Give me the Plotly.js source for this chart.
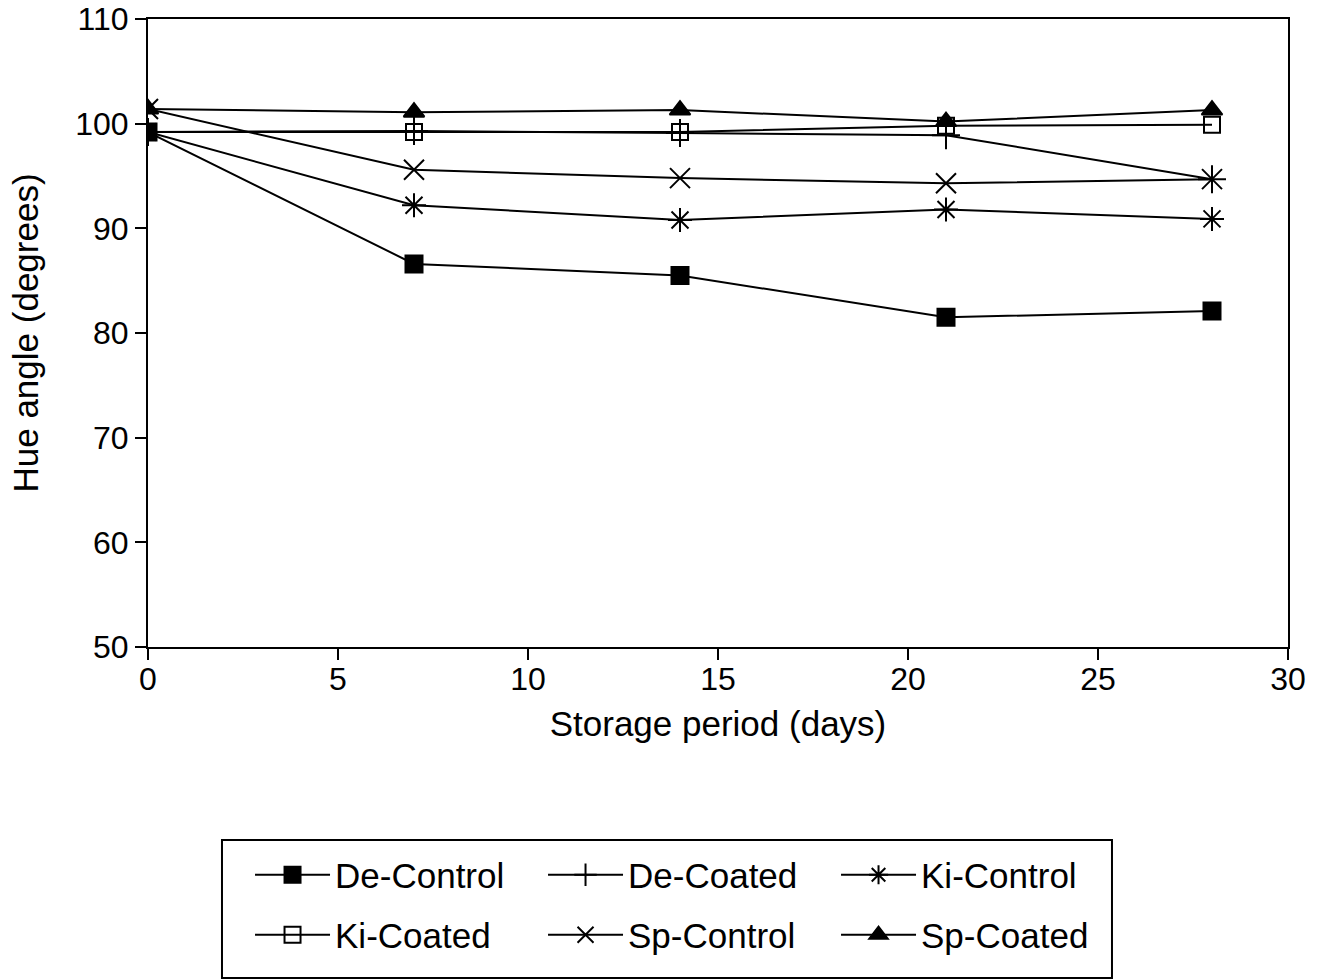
<!DOCTYPE html>
<html>
<head>
<meta charset="utf-8">
<script src="https://cdn.plot.ly/plotly-3.0.1.min.js"></script>
<style>
  html, body { margin: 0; padding: 0; background: #fff; }
  #chart { width: 1324px; height: 979px; }
</style>
</head>
<body>
<div id="chart"></div>
<script>
// Storage period (days)
const days = [0, 7, 14, 21, 28];

// Hue angle (degrees) per treatment
const deControl = [99.2, 86.6, 85.5, 81.5, 82.1];
const deCoated  = [99.2, 99.3, 99.1, 98.9, 94.7];
const kiControl = [99.2, 92.2, 90.8, 91.8, 90.9];
const kiCoated  = [99.2, 99.2, 99.2, 99.8, 99.9];
const spControl = [101.4, 95.6, 94.8, 94.3, 94.7];
const spCoated  = [101.4, 101.1, 101.3, 100.2, 101.3];

const seriesNames = ["De-Control", "De-Coated", "Ki-Control", "Ki-Coated", "Sp-Control", "Sp-Coated"];
const seriesValues = [deControl, deCoated, kiControl, kiCoated, spControl, spCoated];
const symbols = ["square", "cross-thin-open", "asterisk-open", "square-open", "x-thin-open", "triangle-up"];
const sizes = [17, 20, 20, 16, 20, 18];
const legendRow = ["legend", "legend", "legend", "legend2", "legend2", "legend2"];

const traces = seriesNames.map((name, i) => ({
  x: days,
  y: seriesValues[i],
  name: name,
  type: "scatter",
  mode: "lines+markers",
  legend: legendRow[i],
  line: { color: "#000", width: 2 },
  marker: {
    symbol: symbols[i],
    size: sizes[i],
    color: "#000",
    line: { color: "#000", width: 2 }
  }
}));

const fontFam = "Liberation Sans, Arial, sans-serif";

// plot area: top 19px, bottom 647px
const plotTop = 19, plotBottom = 647, plotH = plotBottom - plotTop;
function py(pix) { return (plotBottom - pix) / plotH; }

function legendCfg(y) {
  return {
    orientation: "h",
    x: 0.0895,
    xanchor: "left",
    y: y,
    yanchor: "middle",
    borderwidth: 0,
    bgcolor: "rgba(0,0,0,0)",
    entrywidth: 203,
    entrywidthmode: "pixels",
    itemwidth: 75,
    font: { family: fontFam, size: 35, color: "#000" }
  };
}

const layout = {
  width: 1324,
  height: 979,
  paper_bgcolor: "#fff",
  plot_bgcolor: "#fff",
  margin: { l: 148, r: 36, t: plotTop, b: 979 - plotBottom },
  showlegend: true,
  font: { family: fontFam, color: "#000", size: 32 },
  xaxis: {
    range: [0, 30],
    tickvals: [0, 5, 10, 15, 20, 25, 30],
    ticks: "outside",
    ticklen: 11,
    tickwidth: 2,
    tickcolor: "#000",
    showline: true,
    linecolor: "#000",
    linewidth: 2,
    mirror: true,
    showgrid: false,
    zeroline: false,
    ticklabelstandoff: -8,
    ticklabeloverflow: "allow",
    tickfont: { family: fontFam, size: 32, color: "#000" },
    title: { text: "Storage period (days)", font: { family: fontFam, size: 35, color: "#000" }, standoff: 15 }
  },
  yaxis: {
    range: [50, 110],
    tickvals: [50, 60, 70, 80, 90, 100, 110],
    ticks: "outside",
    ticklen: 11,
    tickwidth: 2,
    tickcolor: "#000",
    showline: true,
    linecolor: "#000",
    linewidth: 2,
    mirror: true,
    showgrid: false,
    zeroline: false,
    ticklabeloverflow: "allow",
    tickfont: { family: fontFam, size: 32, color: "#000" },
    title: { text: "Hue angle (degrees)", font: { family: fontFam, size: 35, color: "#000" }, standoff: 26 }
  },
  legend: legendCfg(py(875)),
  legend2: legendCfg(py(935)),
  shapes: [{
    type: "rect",
    xref: "paper", yref: "paper",
    x0: 0.0649, x1: 0.8456, y0: py(978), y1: py(840),
    line: { color: "#000", width: 2 },
    fillcolor: "rgba(0,0,0,0)"
  }]
};

Plotly.newPlot("chart", traces, layout, { displayModeBar: false, staticPlot: true });
</script>
</body>
</html>
